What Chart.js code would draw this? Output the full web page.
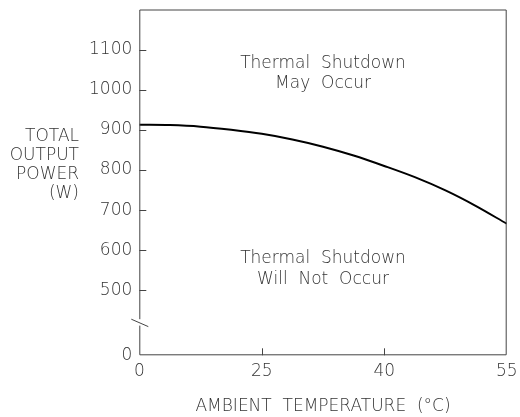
<!DOCTYPE html>
<html>
<head>
<meta charset="utf-8">
<script src="https://cdn.jsdelivr.net/npm/chart.js@4.4.1/dist/chart.umd.min.js"></script>
<style>
	html, body { margin: 0; padding: 0; background: #fff; }
	#wrap { width: 520px; height: 417px; }
</style>
</head>
<body>
<div id="wrap"><canvas id="powerChart" width="520" height="417"></canvas></div>
<script>
// x positions are evenly spaced tick slots (0..3), labelled with the temperatures
var tempLabels = ['0', '25', '40', '55'];
var curveX = [0, 0.25, 0.5, 0.75, 1, 1.25, 1.5, 1.75, 2, 2.25, 2.5, 2.75, 3];
var curvePower = [913, 912, 908, 900, 890, 876, 858, 836, 810, 782, 749, 710, 666];
var powerTicks = [0, 500, 600, 700, 800, 900, 1000, 1100];

// axis is broken below 500: the "0" tick sits where 338 would be
var ZERO_AT = 338;
var BREAK_FROM = 428;
var BREAK_TO = 412;

var FONT = 'DejaVu Sans';
var WEIGHT = '200';
var INK = '#333';

(function () {
	'use strict';

	var textPlugin = {
		id: 'shutdownText',
		afterDraw: function (chart) {
			var ctx = chart.ctx;
			var area = chart.chartArea;
			var xs = chart.scales.x;
			var ys = chart.scales.y;
			var yTop = ys.getPixelForValue(BREAK_FROM);
			var yBot = ys.getPixelForValue(BREAK_TO);

			ctx.save();
			ctx.strokeStyle = '#444';
			ctx.lineWidth = 1;
			ctx.beginPath();
			// frame
			ctx.moveTo(area.left + 0.5, area.top + 0.5);
			ctx.lineTo(area.right - 0.5, area.top + 0.5);
			ctx.lineTo(area.right - 0.5, area.bottom - 0.5);
			ctx.lineTo(area.left + 0.5, area.bottom - 0.5);
			ctx.lineTo(area.left + 0.5, yBot);
			ctx.moveTo(area.left + 0.5, yTop);
			ctx.lineTo(area.left + 0.5, area.top + 0.5);
			// break mark
			ctx.moveTo(area.left - 8, yTop);
			ctx.lineTo(area.left + 9, yBot + 1);

			// inward tick marks
			powerTicks.forEach(function (v) {
				if (v === 0) return;
				var py = Math.round(ys.getPixelForValue(v)) + 0.5;
				ctx.moveTo(area.left, py);
				ctx.lineTo(area.left + 7, py);
			});
			[1, 2].forEach(function (i) {
				var px = Math.round(xs.getPixelForValue(i)) + 0.5;
				ctx.moveTo(px, area.bottom);
				ctx.lineTo(px, area.bottom - 7);
			});
			ctx.stroke();

			ctx.fillStyle = INK;
			ctx.font = WEIGHT + ' 17px "' + FONT + '"';
			ctx.textBaseline = 'middle';

			ctx.textAlign = 'center';
			var cx = xs.getPixelForValue(1.5);
			ctx.fillText('Thermal  Shutdown', cx, ys.getPixelForValue(1066));
			ctx.fillText('May  Occur', cx, ys.getPixelForValue(1016));
			ctx.fillText('Thermal  Shutdown', cx, ys.getPixelForValue(578));
			ctx.fillText('Will  Not  Occur', cx, ys.getPixelForValue(528));

			ctx.fillText('AMBIENT  TEMPERATURE  (\u00B0C)', (area.left + area.right) / 2, 407);

			ctx.textAlign = 'right';
			['TOTAL', 'OUTPUT', 'POWER', '(W)'].forEach(function (t, i) {
				ctx.fillText(t, 79, 137 + i * 19);
			});
			ctx.restore();
		}
	};

	function noPadding(scale) {
		scale.paddingTop = 0;
		scale.paddingBottom = 0;
		scale.paddingLeft = 0;
		scale.paddingRight = 0;
	}

	var ctx = document.getElementById('powerChart');

	new Chart(ctx, {
		type: 'line',
		data: {
			datasets: [{
				data: curveX.map(function (x, i) {
					return { x: x, y: curvePower[i] };
				}),
				borderColor: '#000',
				borderWidth: 2,
				pointRadius: 0,
				cubicInterpolationMode: 'monotone',
				fill: false
			}]
		},
		options: {
			responsive: false,
			animation: false,
			layout: {
				padding: { top: 9.5, right: 13.3, left: 0, bottom: 0 }
			},
			plugins: {
				legend: { display: false },
				tooltip: { enabled: false }
			},
			scales: {
				x: {
					type: 'linear',
					min: 0,
					max: 3,
					grid: { display: false, drawTicks: false },
					border: { display: false },
					afterBuildTicks: function (scale) {
						scale.ticks = tempLabels.map(function (t, i) {
							return { value: i };
						});
					},
					afterFit: function (scale) {
						scale.height = 61.7;
						noPadding(scale);
					},
					ticks: {
						color: INK,
						font: { family: FONT, size: 17, weight: WEIGHT },
						padding: 6,
						maxRotation: 0,
						callback: function (value) {
							return tempLabels[value];
						}
					}
				},
				y: {
					type: 'linear',
					min: ZERO_AT,
					max: 1200,
					grid: { display: false, drawTicks: false },
					border: { display: false },
					afterBuildTicks: function (scale) {
						scale.ticks = powerTicks.map(function (v) {
							return { value: v === 0 ? ZERO_AT : v };
						});
					},
					afterFit: function (scale) {
						scale.width = 139.3;
						noPadding(scale);
					},
					ticks: {
						color: INK,
						font: { family: FONT, size: 17, weight: WEIGHT },
						padding: 7,
						callback: function (value) {
							return value === ZERO_AT ? '0' : value;
						}
					}
				}
			}
		},
		plugins: [textPlugin]
	});
})();
</script>
</body>
</html>
